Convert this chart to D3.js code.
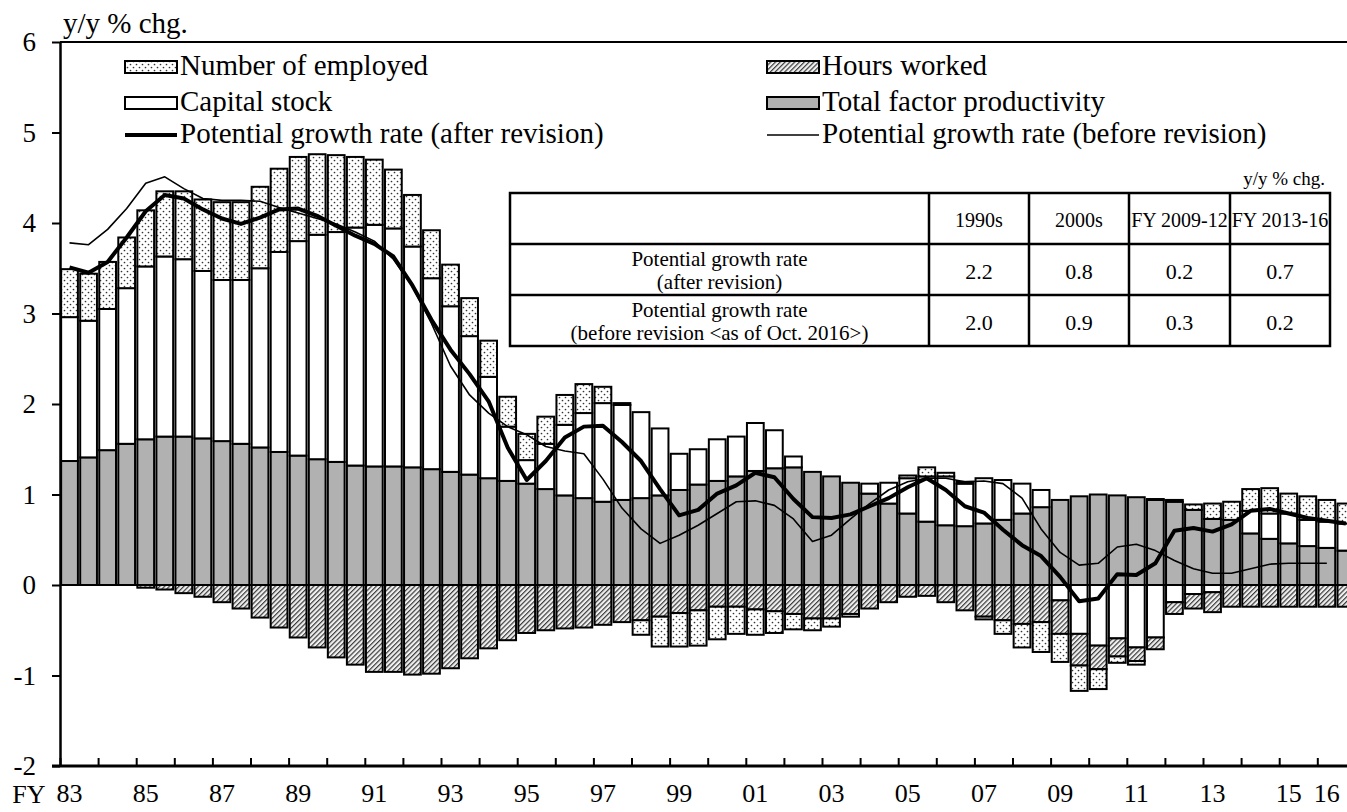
<!DOCTYPE html>
<html>
<head>
<meta charset="utf-8">
<script src="https://cdn.jsdelivr.net/npm/d3@7"></script>
<style>
  html, body { margin: 0; padding: 0; background: #fff; }
  svg { display: block; }
  svg text { font-family: "Liberation Serif", "Times New Roman", serif; fill: #000; }
</style>
</head>
<body>
<svg id="chart" width="1347" height="812"></svg>
<script>
// Half-year periods, FY1983 H1 .. FY2016 H2
const halfYears = [];
for (let fy = 1983; fy <= 2016; fy++) { halfYears.push(fy + "H1", fy + "H2"); }

// Contributions, y/y % chg.
const tfp = [
  1.37, 1.41, 1.49, 1.56, 1.61, 1.64, 1.64, 1.62, 1.59, 1.56,
  1.52, 1.47, 1.43, 1.39, 1.36, 1.32, 1.31, 1.31, 1.30, 1.28,
  1.25, 1.22, 1.18, 1.15, 1.12, 1.06, 0.99, 0.96, 0.92, 0.94,
  0.96, 0.99, 1.05, 1.11, 1.15, 1.20, 1.26, 1.29, 1.30, 1.25,
  1.20, 1.13, 1.01, 0.90, 0.79, 0.70, 0.66, 0.65, 0.68, 0.72,
  0.79, 0.86, 0.94, 0.98, 1.00, 0.99, 0.97, 0.94, 0.92, 0.83,
  0.73, 0.72, 0.57, 0.51, 0.46, 0.43, 0.41, 0.38
];
const capitalStock = [
  1.59, 1.51, 1.56, 1.72, 1.91, 1.99, 1.96, 1.85, 1.78, 1.81,
  1.98, 2.21, 2.37, 2.48, 2.54, 2.63, 2.67, 2.63, 2.44, 2.11,
  1.83, 1.53, 1.12, 0.60, 0.26, 0.50, 0.78, 0.94, 1.09, 1.05,
  0.95, 0.74, 0.40, 0.39, 0.46, 0.44, 0.53, 0.42, 0.12, 0.00,
  0.00, 0.00, 0.11, 0.23, 0.39, 0.50, 0.54, 0.47, 0.50, 0.44,
  0.33, 0.19, -0.17, -0.54, -0.67, -0.59, -0.69, -0.58, -0.19, -0.10,
  -0.08, 0.00, 0.25, 0.28, 0.33, 0.29, 0.29, 0.30
];
const hoursWorked = [
  0.00, 0.00, 0.00, 0.00, -0.03, -0.05, -0.09, -0.13, -0.19, -0.26,
  -0.36, -0.47, -0.58, -0.69, -0.80, -0.88, -0.96, -0.96, -0.99, -0.98,
  -0.92, -0.81, -0.70, -0.61, -0.53, -0.50, -0.48, -0.47, -0.44, -0.41,
  -0.39, -0.35, -0.31, -0.28, -0.24, -0.24, -0.27, -0.29, -0.32, -0.37,
  -0.37, -0.32, -0.26, -0.19, -0.13, -0.12, -0.19, -0.28, -0.35, -0.39,
  -0.43, -0.41, -0.37, -0.35, -0.26, -0.20, -0.15, -0.13, -0.13, -0.16,
  -0.22, -0.24, -0.24, -0.24, -0.24, -0.24, -0.24, -0.24
];
const employed = [
  0.53, 0.52, 0.52, 0.56, 0.62, 0.72, 0.75, 0.79, 0.86, 0.86,
  0.90, 0.92, 0.93, 0.89, 0.85, 0.78, 0.72, 0.65, 0.57, 0.53,
  0.46, 0.42, 0.40, 0.33, 0.29, 0.30, 0.33, 0.32, 0.18, 0.02,
  -0.16, -0.33, -0.37, -0.39, -0.36, -0.30, -0.28, -0.24, -0.17, -0.13,
  -0.09, -0.03, 0.00, 0.00, 0.03, 0.10, 0.04, 0.02, -0.03, -0.15,
  -0.26, -0.33, -0.31, -0.28, -0.22, -0.07, -0.04, 0.01, 0.02, 0.06,
  0.17, 0.20, 0.24, 0.28, 0.22, 0.26, 0.24, 0.22
];

// Potential growth rate
const potentialAfter = [
  3.51, 3.45, 3.57, 3.84, 4.13, 4.31, 4.27, 4.15, 4.05, 3.99,
  4.06, 4.15, 4.16, 4.08, 3.97, 3.86, 3.77, 3.63, 3.31, 2.93,
  2.60, 2.33, 2.03, 1.52, 1.16, 1.37, 1.63, 1.75, 1.76, 1.58,
  1.37, 1.06, 0.77, 0.83, 1.01, 1.10, 1.24, 1.19, 0.95, 0.75,
  0.74, 0.78, 0.87, 0.96, 1.08, 1.18, 1.05, 0.87, 0.80, 0.61,
  0.44, 0.32, 0.09, -0.18, -0.15, 0.12, 0.11, 0.24, 0.60, 0.63,
  0.59, 0.67, 0.82, 0.84, 0.79, 0.74, 0.71, 0.68
];
// Estimate as of Oct. 2016, ends at FY2016 H1
const potentialBefore = [
  3.78, 3.76, 3.93, 4.16, 4.44, 4.51, 4.38, 4.27, 4.25, 4.25,
  4.24, 4.17, 4.11, 4.05, 3.99, 3.90, 3.80, 3.60, 3.30, 2.89,
  2.42, 2.10, 1.90, 1.75, 1.66, 1.53, 1.48, 1.45, 1.17, 0.85,
  0.62, 0.46, 0.55, 0.66, 0.79, 0.92, 0.93, 0.88, 0.73, 0.48,
  0.55, 0.73, 0.90, 1.05, 1.14, 1.18, 1.18, 1.14, 1.15, 1.12,
  0.96, 0.62, 0.36, 0.22, 0.24, 0.42, 0.45, 0.38, 0.27, 0.18,
  0.13, 0.13, 0.18, 0.23, 0.24, 0.24, 0.24
];

const xTickPeriods = ["1983H1","1985H1","1987H1","1989H1","1991H1","1993H1","1995H1","1997H1","1999H1",
                      "2001H1","2003H1","2005H1","2007H1","2009H1","2011H1","2013H1","2015H1","2016H1"];
const xTickLabels = ["83","85","87","89","91","93","95","97","99","01","03","05","07","09","11","13","15","16"];
const yTicks = [-2, -1, 0, 1, 2, 3, 4, 5, 6];

const legendLabels = {
  employed: "Number of employed",
  hours: "Hours worked",
  capital: "Capital stock",
  tfp: "Total factor productivity",
  after: "Potential growth rate (after revision)",
  before: "Potential growth rate (before revision)"
};

const tableColumns = ["1990s", "2000s", "FY 2009-12", "FY 2013-16"];
const tableRowLabels = [
  ["Potential growth rate", "(after revision)"],
  ["Potential growth rate", "(before revision <as of Oct. 2016>)"]
];
const tableAfter = ["2.2", "0.8", "0.2", "0.7"];
const tableBefore = ["2.0", "0.9", "0.3", "0.2"];

// ---------------------------------------------------------------
const FONT = "Liberation Serif, Times New Roman, serif";
const svg = d3.select("#chart");
const W = 1347;
const plotLeft = 60, plotTop = 42, plotBottom = 766;
const step = 19.05;
const plotRight = plotLeft + step * halfYears.length;

const x = d3.scaleBand().domain(halfYears).range([plotLeft, plotRight])
  .paddingInner(0.12).paddingOuter(0.06);
const y = d3.scaleLinear().domain([-2, 6]).range([plotBottom, plotTop]);
const yearScale = d3.scaleLinear().domain([1983, 2017]).range([plotLeft, plotRight]);
const cx = p => x(p) + x.bandwidth() / 2;

// fill patterns
const defs = svg.append("defs");
const dots = defs.append("pattern").attr("id", "dots")
  .attr("patternUnits", "userSpaceOnUse").attr("width", 6).attr("height", 6);
dots.append("rect").attr("width", 6).attr("height", 6).attr("fill", "#fff");
dots.append("circle").attr("cx", 1.5).attr("cy", 1.5).attr("r", 0.85).attr("fill", "#333");
dots.append("circle").attr("cx", 4.5).attr("cy", 4.5).attr("r", 0.85).attr("fill", "#333");

const hatch = defs.append("pattern").attr("id", "hatch")
  .attr("patternUnits", "userSpaceOnUse").attr("width", 3.4).attr("height", 3.4)
  .attr("patternTransform", "rotate(45)");
hatch.append("rect").attr("width", 3.4).attr("height", 3.4).attr("fill", "#f0f0f0");
hatch.append("line").attr("x1", 0.6).attr("y1", 0).attr("x2", 0.6).attr("y2", 3.4)
  .attr("stroke", "#3a3a3a").attr("stroke-width", 1.2);

const fills = { tfp: "#b1b1b1", capital: "#ffffff", hours: "url(#hatch)", employed: "url(#dots)" };

// stacked bars
const rows = halfYears.map((p, i) => ({
  period: p, tfp: tfp[i], capital: capitalStock[i], hours: hoursWorked[i], employed: employed[i]
}));
const keys = ["tfp", "capital", "hours", "employed"];
const stacked = d3.stack().keys(keys).offset(d3.stackOffsetDiverging)(rows);

const clip = defs.append("clipPath").attr("id", "plotclip");
clip.append("rect").attr("x", plotLeft).attr("y", 0).attr("width", W - plotLeft).attr("height", plotBottom);

const barsG = svg.append("g").attr("clip-path", "url(#plotclip)");
stacked.forEach(s => {
  barsG.append("g")
    .selectAll("rect")
    .data(s.filter(d => Math.abs(d[1] - d[0]) > 1e-9))
    .join("rect")
    .attr("x", d => x(d.data.period))
    .attr("width", x.bandwidth())
    .attr("y", d => y(Math.max(d[0], d[1])))
    .attr("height", d => Math.abs(y(d[0]) - y(d[1])))
    .attr("fill", fills[s.key])
    .attr("stroke", "#000")
    .attr("stroke-width", 2);
});

// zero line
svg.append("line")
  .attr("x1", plotLeft).attr("x2", W).attr("y1", y(0)).attr("y2", y(0))
  .attr("stroke", "#000").attr("stroke-width", 2);

// potential growth lines
const lineGen = d3.line().x(d => cx(d.p)).y(d => y(d.v));
barsG.append("path")
  .datum(potentialBefore.map((v, i) => ({ p: halfYears[i], v })))
  .attr("d", lineGen).attr("fill", "none").attr("stroke", "#000").attr("stroke-width", 1.6)
  .attr("stroke-linejoin", "round");
barsG.append("path")
  .datum(potentialAfter.map((v, i) => ({ p: halfYears[i], v })))
  .attr("d", lineGen).attr("fill", "none").attr("stroke", "#000").attr("stroke-width", 4)
  .attr("stroke-linejoin", "round");

// frame: top border
svg.append("line")
  .attr("x1", plotLeft).attr("x2", W).attr("y1", y(6)).attr("y2", y(6))
  .attr("stroke", "#000").attr("stroke-width", 2);

// y axis
const yAxis = svg.append("g").attr("transform", `translate(${plotLeft},0)`)
  .call(d3.axisLeft(y).tickValues(yTicks).tickSize(8).tickSizeOuter(0).tickPadding(16)
    .tickFormat(d => String(d)));
yAxis.attr("font-family", FONT);
yAxis.select(".domain").attr("stroke-width", 2.5);
yAxis.selectAll(".tick line").attr("stroke-width", 2);
yAxis.selectAll(".tick text").attr("font-size", 27).attr("fill", "#000");

// bottom axis: year ticks pointing up, labels under the first half of each year
const yearAxis = svg.append("g").attr("transform", `translate(0,${plotBottom})`)
  .call(d3.axisBottom(yearScale).tickValues(d3.range(1983, 2018)).tickSize(-8).tickSizeOuter(0).tickFormat(""));
yearAxis.select(".domain").remove();
yearAxis.selectAll(".tick line").attr("stroke-width", 2);
svg.append("line")
  .attr("x1", plotLeft - 8).attr("x2", W).attr("y1", plotBottom).attr("y2", plotBottom)
  .attr("stroke", "#000").attr("stroke-width", 3);

const xAxis = svg.append("g").attr("transform", `translate(0,${plotBottom})`)
  .call(d3.axisBottom(x).tickValues(xTickPeriods).tickSize(0).tickPadding(18)
    .tickFormat((d, i) => xTickLabels[i]));
xAxis.attr("font-family", FONT);
xAxis.select(".domain").remove();
xAxis.selectAll(".tick text").attr("font-size", 26).attr("fill", "#000");
svg.append("text").attr("x", cx(xTickPeriods[0]) - 24).attr("y", 802.5)
  .attr("text-anchor", "end").attr("font-size", 26).attr("font-family", FONT).text("FY");

// unit label
svg.append("text").attr("x", 63).attr("y", 33).attr("font-size", 29).attr("font-family", FONT).text("y/y % chg.");

// legend
const legend = svg.append("g").attr("font-size", 29).attr("font-family", FONT);
const legendItems = [
  { key: "employed", col: 0, row: 0, type: "box" },
  { key: "hours", col: 1, row: 0, type: "box" },
  { key: "capital", col: 0, row: 1, type: "box" },
  { key: "tfp", col: 1, row: 1, type: "box" },
  { key: "after", col: 0, row: 2, type: "line", w: 4 },
  { key: "before", col: 1, row: 2, type: "line", w: 1.6 }
];
const colX = [125, 767];
const rowY = [67, 103, 135];
legendItems.forEach(it => {
  const x0 = colX[it.col], yc = rowY[it.row];
  if (it.type === "box") {
    legend.append("rect").attr("x", x0).attr("y", yc - 6).attr("width", 52).attr("height", 12)
      .attr("fill", fills[it.key]).attr("stroke", "#000").attr("stroke-width", 2);
  } else {
    legend.append("line").attr("x1", x0).attr("x2", x0 + 52).attr("y1", yc).attr("y2", yc)
      .attr("stroke", "#000").attr("stroke-width", it.w);
  }
  legend.append("text").attr("x", x0 + 55).attr("y", yc + 8).text(legendLabels[it.key]);
});

// summary table
const tX = [510, 929, 1029, 1129, 1230, 1330];
const tY = [193, 244, 295, 346];
const table = svg.append("g").attr("font-family", FONT);
table.append("rect").attr("x", tX[0]).attr("y", tY[0]).attr("width", tX[5] - tX[0]).attr("height", tY[3] - tY[0])
  .attr("fill", "#fff").attr("stroke", "#000").attr("stroke-width", 2.5);
tX.slice(1, 5).forEach(xx => table.append("line").attr("x1", xx).attr("x2", xx).attr("y1", tY[0]).attr("y2", tY[3])
  .attr("stroke", "#000").attr("stroke-width", 2.5));
tY.slice(1, 3).forEach(yy => table.append("line").attr("x1", tX[0]).attr("x2", tX[5]).attr("y1", yy).attr("y2", yy)
  .attr("stroke", "#000").attr("stroke-width", 2.5));
table.append("text").attr("x", 1325).attr("y", 185).attr("text-anchor", "end").attr("font-size", 19).text("y/y % chg.");
tableColumns.forEach((c, i) => table.append("text")
  .attr("x", (tX[i + 1] + tX[i + 2]) / 2).attr("y", (tY[0] + tY[1]) / 2 + 8)
  .attr("text-anchor", "middle").attr("font-size", 20).text(c));
tableRowLabels.forEach((lines, r) => {
  const ym = (tY[r + 1] + tY[r + 2]) / 2;
  lines.forEach((t, k) => table.append("text")
    .attr("x", (tX[0] + tX[1]) / 2).attr("y", ym - 4 + k * 23)
    .attr("text-anchor", "middle").attr("font-size", 21).text(t));
});
[tableAfter, tableBefore].forEach((vals, r) => {
  const ym = (tY[r + 1] + tY[r + 2]) / 2;
  vals.forEach((v, i) => table.append("text")
    .attr("x", (tX[i + 1] + tX[i + 2]) / 2).attr("y", ym + 9)
    .attr("text-anchor", "middle").attr("font-size", 22).text(v));
});
</script>
</body>
</html>
